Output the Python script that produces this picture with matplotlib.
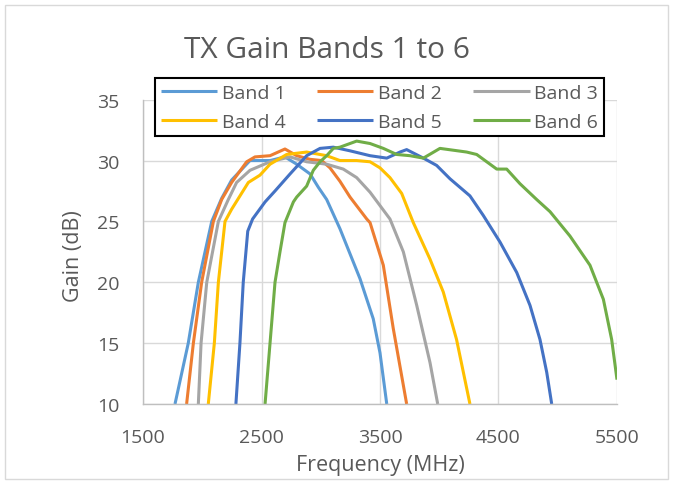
import matplotlib.pyplot as plt
from matplotlib.patches import Rectangle

plt.rcParams['font.family'] = ['Open Sans', 'DejaVu Sans']

# Frequency (MHz) / gain (dB)
band1_freq = [1770, 1882, 1967, 2080, 2164, 2248, 2403, 2572, 2698, 2797, 2910, 2980, 3050, 3162, 3331, 3443, 3500, 3557]
band1_gain = [10, 15, 20, 25, 26.9, 28.4, 30.0, 30.0, 30.3, 29.7, 28.9, 27.8, 26.8, 24.4, 20.3, 17.0, 14.2, 10]

band2_freq = [1868, 1925, 1995, 2094, 2164, 2248, 2375, 2445, 2572, 2698, 2797, 2910, 3008, 3078, 3162, 3247, 3388, 3416, 3528, 3612, 3725]
band2_gain = [10, 15, 20, 25, 26.8, 28.2, 29.9, 30.3, 30.4, 30.95, 30.4, 30.1, 30.0, 29.4, 28.3, 27.0, 25.2, 24.9, 21.4, 16.2, 10]

band3_freq = [1967, 1990, 2038, 2136, 2220, 2290, 2403, 2572, 2741, 2881, 3050, 3190, 3303, 3416, 3584, 3697, 3810, 3922, 3987]
band3_gain = [10, 15, 20, 25, 26.8, 28.2, 29.2, 29.9, 30.3, 29.9, 29.7, 29.3, 28.6, 27.4, 25.2, 22.5, 18.1, 13.4, 10]

band4_freq = [2051, 2102, 2136, 2192, 2248, 2389, 2487, 2572, 2712, 2881, 3050, 3162, 3303, 3416, 3500, 3584, 3683, 3781, 3922, 4034, 4146, 4259]
band4_gain = [10, 15, 20, 25, 26.0, 28.2, 28.8, 29.7, 30.5, 30.7, 30.4, 30.0, 30.0, 29.9, 29.4, 28.6, 27.3, 24.9, 21.9, 19.2, 15.3, 10]

band5_freq = [2284, 2318, 2346, 2384, 2425, 2530, 2614, 2741, 2881, 2994, 3106, 3247, 3416, 3557, 3669, 3725, 3866, 3978, 4091, 4259, 4371, 4513, 4654, 4766, 4850, 4907, 4949]
band5_gain = [10, 15, 20, 24.2, 25.2, 26.6, 27.5, 28.9, 30.4, 31.0, 31.1, 30.8, 30.4, 30.2, 30.7, 30.9, 30.2, 29.6, 28.5, 27.1, 25.5, 23.3, 20.8, 18.1, 15.3, 12.6, 10]

band6_freq = [2530, 2572, 2614, 2656, 2698, 2769, 2797, 2881, 2937, 2994, 3050, 3106, 3162, 3303, 3416, 3528, 3641, 3753, 3866, 4006, 4231, 4316, 4485, 4569, 4681, 4822, 4935, 5103, 5272, 5385, 5455, 5500]
band6_gain = [10, 15, 20, 22.5, 24.9, 26.6, 27.0, 27.9, 29.2, 29.9, 30.4, 31.0, 31.1, 31.6, 31.4, 31.0, 30.5, 30.4, 30.2, 31.0, 30.7, 30.5, 29.3, 29.3, 28.1, 26.8, 25.8, 23.8, 21.4, 18.6, 15.3, 12.0]

labels = ["Band 1", "Band 2", "Band 3", "Band 4", "Band 5", "Band 6"]
colors = ["#5B9BD5", "#ED7D31", "#A5A5A5", "#FFC000", "#4472C4", "#70AD47"]
freqs = [band1_freq, band2_freq, band3_freq, band4_freq, band5_freq, band6_freq]
gains = [band1_gain, band2_gain, band3_gain, band4_gain, band5_gain, band6_gain]

text_color = "#595959"

fig = plt.figure(figsize=(6.74, 4.85), dpi=100)
ax = fig.add_axes([143 / 674, 1 - 405 / 485, 474 / 674, 304.3 / 485])

lines = []
for f, g, lab, c in zip(freqs, gains, labels, colors):
    ln, = ax.plot(f, g, color=c, lw=2.2, label=lab, solid_joinstyle="round", solid_capstyle="butt")
    lines.append(ln)

ax.set_xlim(1500, 5500)
ax.set_ylim(10, 35)
ax.set_xticks([1500, 2500, 3500, 4500, 5500])
ax.set_yticks([10, 15, 20, 25, 30, 35])
ax.grid(True, color="#D9D9D9", lw=1.0)
ax.set_axisbelow(True)
ax.tick_params(length=0, labelsize=14, labelcolor=text_color)
ax.tick_params(axis="x", pad=17)
ax.tick_params(axis="y", pad=17)
for side in ["top", "right"]:
    ax.spines[side].set_visible(False)
for side in ["left", "bottom"]:
    ax.spines[side].set_color("#BFBFBF")
    ax.spines[side].set_linewidth(1.0)

fig.text(327 / 674, 1 - 50 / 485, "TX Gain Bands 1 to 6", fontsize=21.5,
         color=text_color, ha="center", va="center")
fig.text(380 / 674, 1 - 466 / 485, "Frequency (MHz)", fontsize=15.5,
         color=text_color, ha="center", va="center")
fig.text(73 / 674, 1 - 256 / 485, "Gain (dB)", fontsize=15.5, rotation=90,
         color=text_color, ha="center", va="center")

# legend fills column by column, so reorder to read row by row
order = [0, 3, 1, 4, 2, 5]
leg = fig.legend([lines[i] for i in order], [labels[i] for i in order],
                 loc="upper left", bbox_to_anchor=(155 / 674, 1 - 79 / 485), ncol=3,
                 fontsize=14, handlelength=2.9, handletextpad=0.25, columnspacing=1.6,
                 borderpad=0.3, labelspacing=0.55, fancybox=False, framealpha=1,
                 borderaxespad=0)
leg.get_frame().set_edgecolor("black")
leg.get_frame().set_linewidth(1.5)
for t in leg.get_texts():
    t.set_color(text_color)

# Chart area border
fig.patches.append(Rectangle((5 / 674, 5 / 485), 663 / 674, 474 / 485, transform=fig.transFigure,
                             fill=False, edgecolor="#D9D9D9", lw=1.0))

fig.savefig("out.png", dpi=100)
